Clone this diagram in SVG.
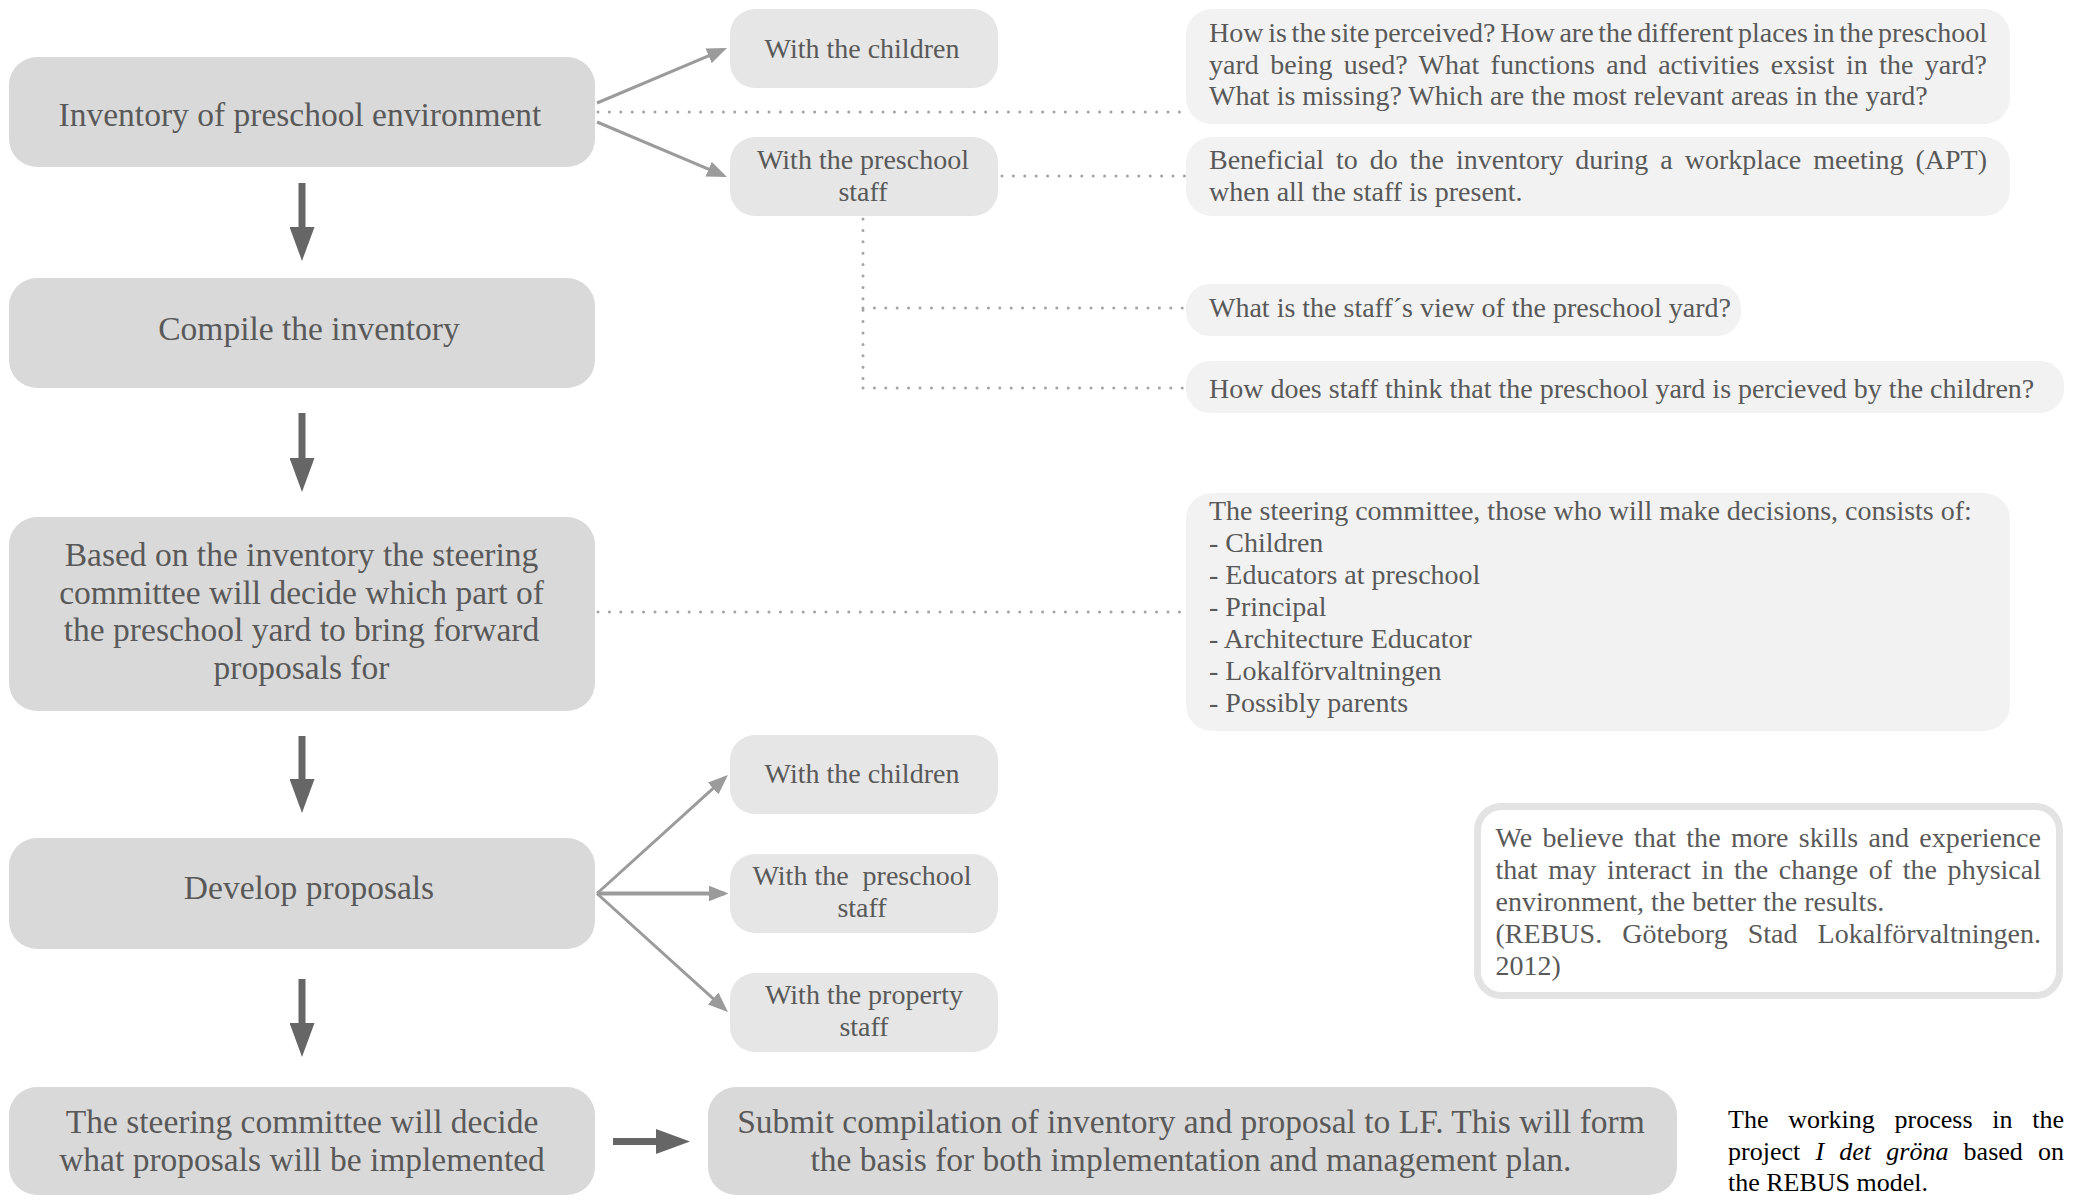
<svg xmlns="http://www.w3.org/2000/svg" width="2078" height="1200" viewBox="0 0 2078 1200">
  <defs>
    <style>
      .box { fill: #d9d9d9; }
      .sub { fill: #e6e6e6; }
      .note { fill: #f2f2f2; }
      .quote { fill: #ffffff; stroke: #e3e3e3; stroke-width: 7; }
      text { font-family: "Liberation Serif", "Times New Roman", serif; fill: #595959; }
      .big { font-size: 33.5px; text-anchor: middle; }
      .mid { font-size: 28px; text-anchor: middle; }
      .nt { font-size: 28px; }
      .cap { font-size: 26px; fill: #000000; }
      .dark { stroke: #666666; stroke-width: 7; fill: none; }
      .light { stroke: #9b9b9b; stroke-width: 3; fill: none; }
      .dot { stroke: #a3a3a3; stroke-width: 3; stroke-linecap: round; stroke-dasharray: 0 11.4; fill: none; }
    </style>
    <marker id="headDark" markerUnits="userSpaceOnUse" markerWidth="34" markerHeight="25" refX="20" refY="12.5" orient="auto">
      <path d="M0,0 L34,12.5 L0,25 Z" fill="#666666"/>
    </marker>
    <marker id="headLight" markerUnits="userSpaceOnUse" markerWidth="20" markerHeight="16" refX="16" refY="8" orient="auto">
      <path d="M0,0 L20,8 L0,16 Z" fill="#9b9b9b"/>
    </marker>
  </defs>

  <!-- connectors -->
  <g id="connectors">
    <!-- main flow -->
    <path class="dark" d="M302,183 V247" marker-end="url(#headDark)"/>
    <path class="dark" d="M302,413 V478" marker-end="url(#headDark)"/>
    <path class="dark" d="M302,736 V799" marker-end="url(#headDark)"/>
    <path class="dark" d="M302,979 V1043" marker-end="url(#headDark)"/>
    <path class="dark" d="M613,1141.5 H676" marker-end="url(#headDark)"/>
    <!-- inventory branches -->
    <path class="light" d="M597,103 L723.3,49.6" marker-end="url(#headLight)"/>
    <path class="light" d="M597,122 L723.3,175.4" marker-end="url(#headLight)"/>
    <!-- proposal branches -->
    <path class="light" d="M597,893.5 L725,777.7" marker-end="url(#headLight)"/>
    <path class="light" style="stroke-width:4" d="M597,893.5 H724.5" marker-end="url(#headLight)"/>
    <path class="light" d="M597,893.5 L725,1009.3" marker-end="url(#headLight)"/>
    <!-- dotted references -->
    <path class="dot" d="M598,112 H1185"/>
    <path class="dot" d="M1002,176 H1185"/>
    <path class="dot" d="M863,219 V388"/>
    <path class="dot" d="M863,308 H1185"/>
    <path class="dot" d="M863,388 H1185"/>
    <path class="dot" d="M598,612 H1185"/>
  </g>

  <!-- process steps -->
  <g id="step-inventory">
    <rect class="box" x="9" y="57" width="586" height="110" rx="28"/>
    <text class="big" x="300" y="126">Inventory of preschool environment</text>
  </g>
  <g id="step-compile">
    <rect class="box" x="9" y="278" width="586" height="110" rx="28"/>
    <text class="big" x="309" y="340">Compile the inventory</text>
  </g>
  <g id="step-select">
    <rect class="box" x="9" y="517" width="586" height="194" rx="28"/>
    <text class="big" x="301.5" y="566">Based on the inventory the steering</text>
    <text class="big" x="301.5" y="604">committee will decide which part of</text>
    <text class="big" x="301.5" y="641">the preschool yard to bring forward</text>
    <text class="big" x="301.5" y="679">proposals for</text>
  </g>
  <g id="step-develop">
    <rect class="box" x="9" y="838" width="586" height="111" rx="28"/>
    <text class="big" x="309" y="899">Develop proposals</text>
  </g>
  <g id="step-decide">
    <rect class="box" x="9" y="1087" width="586" height="108" rx="28"/>
    <text class="big" x="302" y="1133">The steering committee will decide</text>
    <text class="big" x="302" y="1171">what proposals will be implemented</text>
  </g>
  <g id="step-submit">
    <rect class="box" x="708" y="1087" width="969" height="108" rx="28"/>
    <text class="big" x="1191" y="1133">Submit compilation of inventory and proposal to LF. This will form</text>
    <text class="big" x="1191" y="1171">the basis for both implementation and management plan.</text>
  </g>

  <!-- participants -->
  <g id="inv-children">
    <rect class="sub" x="730" y="9" width="268" height="79" rx="25"/>
    <text class="mid" x="862" y="58">With the children</text>
  </g>
  <g id="inv-staff">
    <rect class="sub" x="730" y="137" width="268" height="79" rx="25"/>
    <text class="mid" x="863" y="169">With the preschool</text>
    <text class="mid" x="863" y="201">staff</text>
  </g>
  <g id="dev-children">
    <rect class="sub" x="730" y="735" width="268" height="79" rx="25"/>
    <text class="mid" x="862" y="783">With the children</text>
  </g>
  <g id="dev-staff">
    <rect class="sub" x="730" y="854" width="268" height="79" rx="25"/>
    <text class="mid" x="862" y="885" xml:space="preserve">With the  preschool</text>
    <text class="mid" x="862" y="917">staff</text>
  </g>
  <g id="dev-property">
    <rect class="sub" x="730" y="973" width="268" height="79" rx="25"/>
    <text class="mid" x="864" y="1004">With the property</text>
    <text class="mid" x="864" y="1036">staff</text>
  </g>

  <!-- notes -->
  <g id="note-children">
    <rect class="note" x="1186" y="9" width="824" height="115" rx="26"/>
    <text class="nt" x="1209" y="42" textLength="778" lengthAdjust="spacing" style="word-spacing:-2.3px">How is the site perceived? How are the different places in the preschool</text>
    <text class="nt" x="1209" y="73.5" textLength="778" lengthAdjust="spacing" style="word-spacing:4.4px">yard being used? What functions and activities exsist in the yard?</text>
    <text class="nt" x="1209" y="105">What is missing? Which are the most relevant areas in the yard?</text>
  </g>
  <g id="note-staff">
    <rect class="note" x="1186" y="137" width="824" height="79" rx="26"/>
    <text class="nt" x="1209" y="169" textLength="778" lengthAdjust="spacing" style="word-spacing:5px">Beneficial to do the inventory during a workplace meeting (APT)</text>
    <text class="nt" x="1209" y="201">when all the staff is present.</text>
  </g>
  <g id="note-staff-view">
    <rect class="note" x="1186" y="284" width="555" height="52" rx="24"/>
    <text class="nt" x="1209" y="317">What is the staff´s view of the preschool yard?</text>
  </g>
  <g id="note-staff-children">
    <rect class="note" x="1186" y="361" width="878" height="52" rx="24"/>
    <text class="nt" x="1209" y="398">How does staff think that the preschool yard is percieved by the children?</text>
  </g>
  <g id="note-committee">
    <rect class="note" x="1186" y="493" width="824" height="238" rx="26"/>
    <text class="nt" x="1209" y="520">The steering committee, those who will make decisions, consists of:</text>
    <text class="nt" x="1209" y="552">- Children</text>
    <text class="nt" x="1209" y="584">- Educators at preschool</text>
    <text class="nt" x="1209" y="616">- Principal</text>
    <text class="nt" x="1209" y="648">- Architecture Educator</text>
    <text class="nt" x="1209" y="680">- Lokalförvaltningen</text>
    <text class="nt" x="1209" y="712">- Possibly parents</text>
  </g>
  <g id="quote">
    <rect class="quote" x="1477.5" y="806.5" width="582" height="189" rx="24"/>
    <text class="nt" x="1495.5" y="847" textLength="545.5" lengthAdjust="spacing" style="word-spacing:3.2px">We believe that the more skills and experience</text>
    <text class="nt" x="1495.5" y="879" textLength="545.5" lengthAdjust="spacing" style="word-spacing:3.6px">that may interact in the change of the physical</text>
    <text class="nt" x="1495.5" y="911">environment, the better the results.</text>
    <text class="nt" x="1495.5" y="943" textLength="545.5" lengthAdjust="spacing" style="word-spacing:13px">(REBUS. Göteborg Stad Lokalförvaltningen.</text>
    <text class="nt" x="1495.5" y="975">2012)</text>
  </g>

  <!-- caption -->
  <g id="caption">
    <text class="cap" x="1728" y="1128" textLength="336" lengthAdjust="spacing" style="word-spacing:13.2px">The working process in the</text>
    <text class="cap" x="1728" y="1160" textLength="336" lengthAdjust="spacing" style="word-spacing:8.7px">project <tspan font-style="italic">I det gröna</tspan> based on</text>
    <text class="cap" x="1728" y="1191">the REBUS model.</text>
  </g>
</svg>
